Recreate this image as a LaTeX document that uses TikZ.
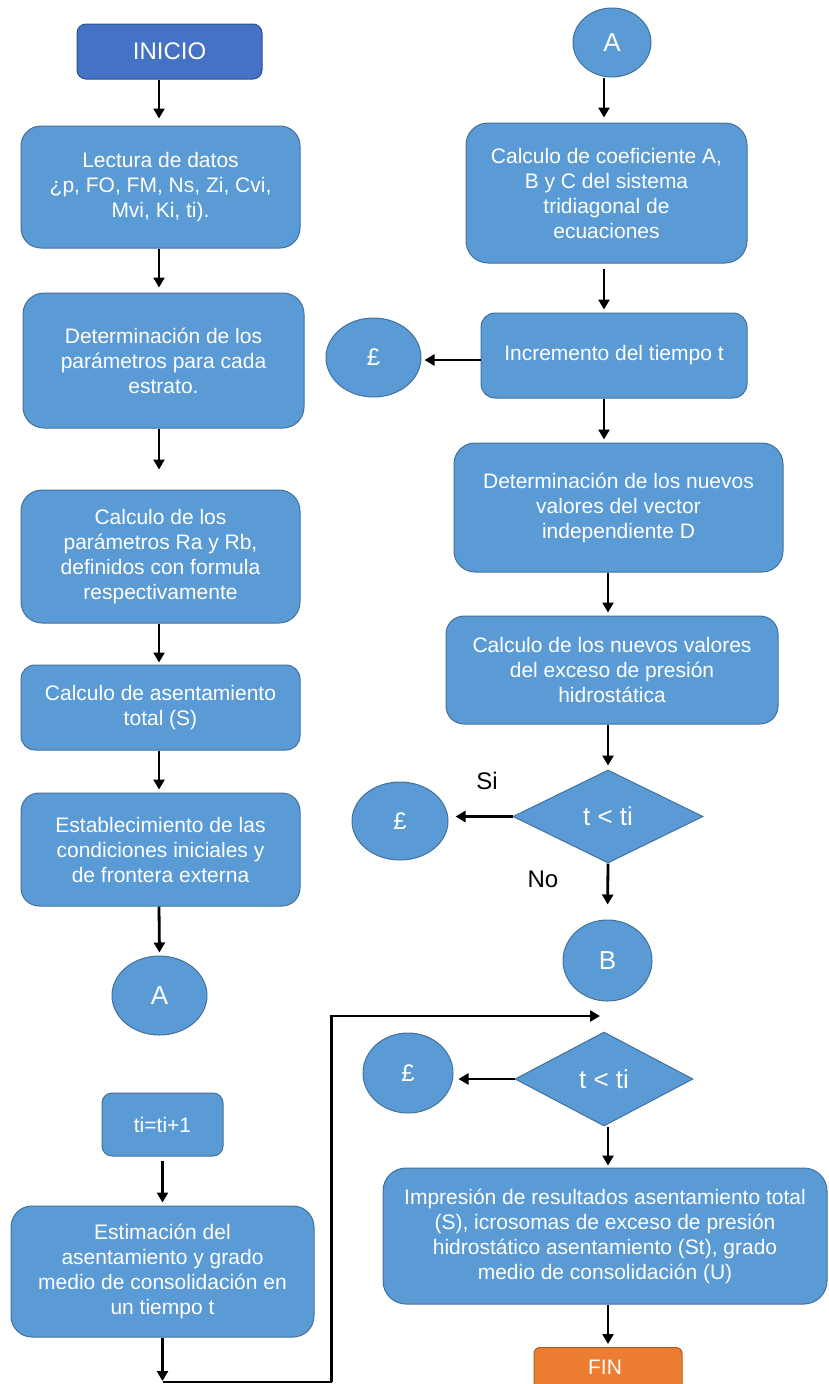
\documentclass[tikz,border=0pt]{standalone}
\usepackage{fontspec}
\setmainfont{Liberation Sans}
\usetikzlibrary{shapes.geometric,arrows.meta,calc}
\definecolor{boxblue}{HTML}{5B9BD5}
\definecolor{boxedge}{HTML}{41719C}
\definecolor{startblue}{HTML}{4472C4}
\definecolor{startedge}{HTML}{2F528F}
\definecolor{finorange}{HTML}{ED7D31}
\definecolor{finedge}{HTML}{AE5A21}
\tikzset{
  proc/.style={draw=boxedge, fill=boxblue, line width=1pt, text=white, align=center,
    inner sep=0pt, font=\fontsize{21}{25}\selectfont},
  conn/.style={ellipse, draw=boxedge, fill=boxblue, line width=1pt, text=white,
    inner sep=0pt, font=\fontsize{26}{30}\selectfont},
  decision/.style={diamond, draw=boxedge, fill=boxblue, line width=1pt, text=white,
    inner sep=0pt, font=\fontsize{26}{30}\selectfont},
  arr/.style={-{Triangle[length=10pt,width=11pt]}, line width=2.8pt, black},
  plain/.style={line width=2.8pt, black},
  lbl/.style={font=\fontsize{24}{28}\selectfont, text=black, inner sep=0pt}
}
\begin{document}
\begin{tikzpicture}[x=1pt,y=-1pt]
\useasboundingbox (0,0) rectangle (828,1384);
\clip (0,0) rectangle (828,1384);

% column guides for arrow positions
\coordinate (xl) at (159,0);
\coordinate (xa) at (604,0);
\coordinate (xb) at (608,0);

% ---- left column ----
\node[proc, fill=startblue, draw=startedge, rounded corners=9pt, minimum width=185pt, minimum height=55pt,
  font=\fontsize{24}{28}\selectfont] (inicio) at (169.5,51.5) {INICIO};
\node[proc, rounded corners=20pt, minimum width=279pt, minimum height=122pt] (lectura) at (160.5,187)
  {Lectura de datos\\ ¿p, FO, FM, Ns, Zi, Cvi,\\ Mvi, Ki, ti).};
\node[proc, rounded corners=21pt, minimum width=281pt, minimum height=135pt] (determ) at (163.5,360.5)
  {Determinación de los\\ parámetros para cada\\ estrato.};
\node[proc, rounded corners=21pt, minimum width=279pt, minimum height=133pt] (ra) at (160.5,556.5)
  {Calculo de los\\ parámetros Ra y Rb,\\ definidos con formula\\ respectivamente};
\node[proc, rounded corners=14pt, minimum width=279pt, minimum height=85pt] (asent) at (160.5,707.5)
  {Calculo de asentamiento\\ total (S)};
\node[proc, rounded corners=18pt, minimum width=279pt, minimum height=113pt] (establ) at (160.5,849.5)
  {Establecimiento de las\\ condiciones iniciales y\\ de frontera externa};
\node[conn, minimum width=95pt, minimum height=79pt] (aleft) at (159.5,995.5) {A};
\node[proc, rounded corners=10pt, minimum width=121pt, minimum height=63pt] (ti) at (162.5,1124.5) {ti=ti+1};
\node[proc, rounded corners=21pt, minimum width=303pt, minimum height=131pt] (estim) at (162.5,1271.5)
  {Estimación del\\ asentamiento y grado\\ medio de consolidación en\\ un tiempo t};
\coordinate (loopstart) at (162.5,1382);
\coordinate (loopend) at (600,1016);

% ---- right column ----
\node[conn, minimum width=78pt, minimum height=69pt] (atop) at (612,42.5) {A};
\node[proc, rounded corners=22pt, minimum width=281pt, minimum height=140pt] (coef) at (606.5,193)
  {Calculo de coeficiente A,\\ B y C del sistema\\ tridiagonal de\\ ecuaciones};
\node[proc, rounded corners=14pt, minimum width=266pt, minimum height=85pt] (incr) at (614,355.5)
  {Incremento del tiempo t};
\node[conn, minimum width=95pt, minimum height=79pt, font=\fontsize{24}{28}\selectfont] (p1) at (373.5,357.5) {£};
\node[proc, rounded corners=21pt, minimum width=329pt, minimum height=129pt] (detn) at (618.5,507.5)
  {Determinación de los nuevos\\ valores del vector\\ independiente D};
\node[proc, rounded corners=18pt, minimum width=332pt, minimum height=108pt] (calcn) at (612,670)
  {Calculo de los nuevos valores\\ del exceso de presión\\ hidrostática};
\node[decision, minimum width=190pt, minimum height=93pt] (dia1) at (608,816.5) {t < ti};
\node[conn, minimum width=96pt, minimum height=78pt, font=\fontsize{24}{28}\selectfont] (p2) at (400,821) {£};
\node[lbl] (si) at (487,781) {Si};
\node[lbl] (no) at (543,879) {No};
\node[conn, minimum width=89pt, minimum height=81pt] (bnode) at (607.5,960.5) {B};
\node[decision, minimum width=178pt, minimum height=94pt] (dia2) at (604,1079) {t < ti};
\node[conn, minimum width=90pt, minimum height=80pt, font=\fontsize{24}{28}\selectfont] (p3) at (408,1073) {£};
\node[proc, rounded corners=23pt, minimum width=444pt, minimum height=136pt] (impr) at (605,1236)
  {Impresión de resultados asentamiento total\\ (S), icrosomas de exceso de presión\\ hidrostático asentamiento (St), grado\\ medio de consolidación (U)};
\node[proc, fill=finorange, draw=finedge, rounded corners=6pt, minimum width=148pt, minimum height=44pt,
  anchor=north] (fin) at (608,1347) {};
\node[text=white, font=\fontsize{21}{25}\selectfont, inner sep=0pt] (fintext) at (605,1367) {FIN};

% ---- connectors, left ----
\draw[arr, shorten >=7pt] (xl |- inicio.south) -- (xl |- lectura.north);
\draw[arr, shorten >=5pt] (xl |- lectura.south) -- (xl |- determ.north);
\draw[arr, shorten >=20pt] (xl |- determ.south) -- (xl |- ra.north);
\draw[arr, shorten >=2pt] (xl |- ra.south) -- (xl |- asent.north);
\draw[arr, shorten >=3pt] (xl |- asent.south) -- (xl |- establ.north);
\draw[arr, shorten >=3pt] (xl |- establ.south) -- (aleft.north);
\draw[arr, shorten >=3pt, shorten <=4pt] (ti.south) -- (ti.south |- estim.north);
\draw[arr, shorten >=1pt] (estim.south) -- (loopstart);
\draw[plain] (loopstart) -- ++(169,0) coordinate (loopcorner);
\draw[arr] (loopcorner) |- (loopend);

% ---- connectors, right ----
\draw[arr, shorten >=5pt] (xa |- atop.south) -- (xa |- coef.north);
\draw[arr, shorten >=3pt, shorten <=5pt] (xa |- coef.south) -- (xa |- incr.north);
\draw[arr, shorten >=3pt] (incr.west |- 0,360) -- (p1.east |- 0,360);
\draw[arr, shorten >=3pt] (xa |- incr.south) -- (xa |- detn.north);
\draw[arr, shorten >=3pt] (xb |- detn.south) -- (xb |- calcn.north);
\draw[arr, shorten >=4pt] (xb |- calcn.south) -- (dia1.north);
\draw[arr, shorten >=7pt] (dia1.west) -- (dia1.west -| p2.east);
\draw[arr, shorten >=15pt] (dia1.south) -- (bnode.north);
\draw[arr, shorten >=5pt] (dia2.west) -- (dia2.west -| p3.east);
\draw[arr, shorten >=2pt] (xb |- dia2.south) -- (xb |- impr.north);
\draw[arr, shorten >=3pt] (xb |- impr.south) -- (xb |- fin.north);
\end{tikzpicture}
\end{document}
